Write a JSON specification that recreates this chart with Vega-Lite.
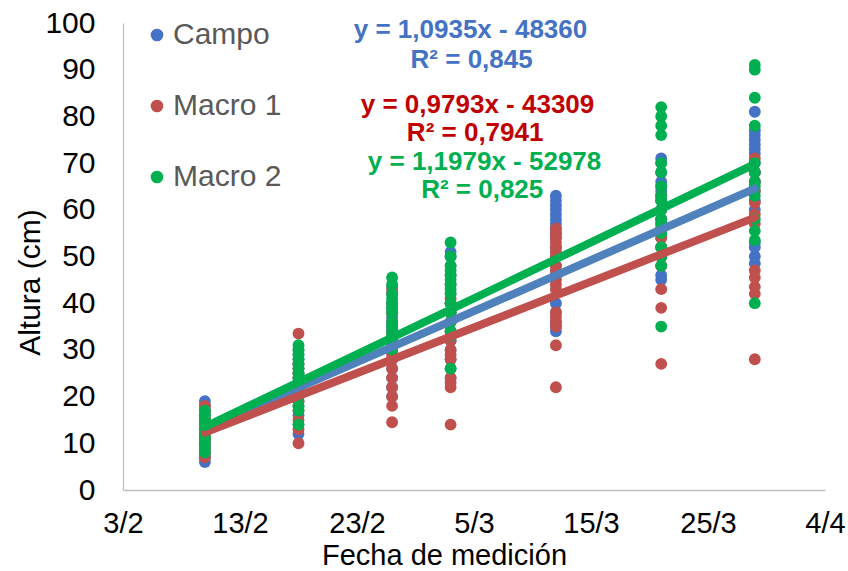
{
  "$schema": "https://vega.github.io/schema/vega-lite/v6.json",
  "autosize": {"type": "none"},
  "width": 702,
  "height": 467,
  "padding": {"left": 123, "top": 23, "right": 23, "bottom": 81},
  "background": "white",
  "config": {
    "view": {"stroke": null},
    "font": "Liberation Sans"
  },
  "datasets": {
    "mediciones": [
      {"fecha": 44237, "altura": 6, "serie": "Campo"}, {"fecha": 44237, "altura": 7, "serie": "Campo"}, {"fecha": 44237, "altura": 8, "serie": "Campo"}, {"fecha": 44237, "altura": 9, "serie": "Campo"}, {"fecha": 44237, "altura": 10, "serie": "Campo"}, {"fecha": 44237, "altura": 11, "serie": "Campo"}, {"fecha": 44237, "altura": 12, "serie": "Campo"}, {"fecha": 44237, "altura": 13, "serie": "Campo"}, {"fecha": 44237, "altura": 14, "serie": "Campo"}, {"fecha": 44237, "altura": 15, "serie": "Campo"}, {"fecha": 44237, "altura": 16, "serie": "Campo"}, {"fecha": 44237, "altura": 17, "serie": "Campo"}, {"fecha": 44237, "altura": 18, "serie": "Campo"}, {"fecha": 44237, "altura": 19, "serie": "Campo"},
      {"fecha": 44245, "altura": 12, "serie": "Campo"}, {"fecha": 44245, "altura": 14, "serie": "Campo"}, {"fecha": 44245, "altura": 16, "serie": "Campo"}, {"fecha": 44245, "altura": 18, "serie": "Campo"}, {"fecha": 44245, "altura": 19, "serie": "Campo"}, {"fecha": 44245, "altura": 20, "serie": "Campo"}, {"fecha": 44245, "altura": 21, "serie": "Campo"}, {"fecha": 44245, "altura": 22, "serie": "Campo"}, {"fecha": 44245, "altura": 23, "serie": "Campo"}, {"fecha": 44245, "altura": 24, "serie": "Campo"}, {"fecha": 44245, "altura": 25, "serie": "Campo"}, {"fecha": 44245, "altura": 26, "serie": "Campo"}, {"fecha": 44245, "altura": 27, "serie": "Campo"}, {"fecha": 44245, "altura": 28, "serie": "Campo"}, {"fecha": 44245, "altura": 29, "serie": "Campo"}, {"fecha": 44245, "altura": 30, "serie": "Campo"},
      {"fecha": 44253, "altura": 20, "serie": "Campo"}, {"fecha": 44253, "altura": 22, "serie": "Campo"}, {"fecha": 44253, "altura": 24, "serie": "Campo"}, {"fecha": 44253, "altura": 26, "serie": "Campo"}, {"fecha": 44253, "altura": 28, "serie": "Campo"}, {"fecha": 44253, "altura": 30, "serie": "Campo"}, {"fecha": 44253, "altura": 31, "serie": "Campo"}, {"fecha": 44253, "altura": 32, "serie": "Campo"}, {"fecha": 44253, "altura": 33, "serie": "Campo"}, {"fecha": 44253, "altura": 34, "serie": "Campo"}, {"fecha": 44253, "altura": 35, "serie": "Campo"}, {"fecha": 44253, "altura": 36, "serie": "Campo"}, {"fecha": 44253, "altura": 37, "serie": "Campo"}, {"fecha": 44253, "altura": 38, "serie": "Campo"}, {"fecha": 44253, "altura": 39, "serie": "Campo"}, {"fecha": 44253, "altura": 40, "serie": "Campo"}, {"fecha": 44253, "altura": 42, "serie": "Campo"}, {"fecha": 44253, "altura": 43.5, "serie": "Campo"},
      {"fecha": 44258, "altura": 24, "serie": "Campo"}, {"fecha": 44258, "altura": 26, "serie": "Campo"}, {"fecha": 44258, "altura": 28, "serie": "Campo"}, {"fecha": 44258, "altura": 30, "serie": "Campo"}, {"fecha": 44258, "altura": 32, "serie": "Campo"}, {"fecha": 44258, "altura": 34, "serie": "Campo"}, {"fecha": 44258, "altura": 36, "serie": "Campo"}, {"fecha": 44258, "altura": 38, "serie": "Campo"}, {"fecha": 44258, "altura": 40, "serie": "Campo"}, {"fecha": 44258, "altura": 42, "serie": "Campo"}, {"fecha": 44258, "altura": 44, "serie": "Campo"}, {"fecha": 44258, "altura": 46, "serie": "Campo"}, {"fecha": 44258, "altura": 48, "serie": "Campo"}, {"fecha": 44258, "altura": 50, "serie": "Campo"}, {"fecha": 44258, "altura": 51, "serie": "Campo"},
      {"fecha": 44267, "altura": 34, "serie": "Campo"}, {"fecha": 44267, "altura": 35, "serie": "Campo"}, {"fecha": 44267, "altura": 36, "serie": "Campo"}, {"fecha": 44267, "altura": 38, "serie": "Campo"}, {"fecha": 44267, "altura": 40, "serie": "Campo"}, {"fecha": 44267, "altura": 46, "serie": "Campo"}, {"fecha": 44267, "altura": 48, "serie": "Campo"}, {"fecha": 44267, "altura": 50, "serie": "Campo"}, {"fecha": 44267, "altura": 52, "serie": "Campo"}, {"fecha": 44267, "altura": 54, "serie": "Campo"}, {"fecha": 44267, "altura": 55, "serie": "Campo"}, {"fecha": 44267, "altura": 56, "serie": "Campo"}, {"fecha": 44267, "altura": 57, "serie": "Campo"}, {"fecha": 44267, "altura": 58, "serie": "Campo"}, {"fecha": 44267, "altura": 59, "serie": "Campo"}, {"fecha": 44267, "altura": 60, "serie": "Campo"}, {"fecha": 44267, "altura": 61, "serie": "Campo"}, {"fecha": 44267, "altura": 62, "serie": "Campo"}, {"fecha": 44267, "altura": 63, "serie": "Campo"},
      {"fecha": 44276, "altura": 45, "serie": "Campo"}, {"fecha": 44276, "altura": 46, "serie": "Campo"}, {"fecha": 44276, "altura": 48, "serie": "Campo"}, {"fecha": 44276, "altura": 50, "serie": "Campo"}, {"fecha": 44276, "altura": 52, "serie": "Campo"}, {"fecha": 44276, "altura": 54, "serie": "Campo"}, {"fecha": 44276, "altura": 56, "serie": "Campo"}, {"fecha": 44276, "altura": 58, "serie": "Campo"}, {"fecha": 44276, "altura": 60, "serie": "Campo"}, {"fecha": 44276, "altura": 62, "serie": "Campo"}, {"fecha": 44276, "altura": 63, "serie": "Campo"}, {"fecha": 44276, "altura": 64, "serie": "Campo"}, {"fecha": 44276, "altura": 65, "serie": "Campo"}, {"fecha": 44276, "altura": 66, "serie": "Campo"}, {"fecha": 44276, "altura": 68, "serie": "Campo"}, {"fecha": 44276, "altura": 70, "serie": "Campo"}, {"fecha": 44276, "altura": 71, "serie": "Campo"},
      {"fecha": 44284, "altura": 48.5, "serie": "Campo"}, {"fecha": 44284, "altura": 50, "serie": "Campo"}, {"fecha": 44284, "altura": 52, "serie": "Campo"}, {"fecha": 44284, "altura": 53, "serie": "Campo"}, {"fecha": 44284, "altura": 60, "serie": "Campo"}, {"fecha": 44284, "altura": 62, "serie": "Campo"}, {"fecha": 44284, "altura": 64, "serie": "Campo"}, {"fecha": 44284, "altura": 66, "serie": "Campo"}, {"fecha": 44284, "altura": 68, "serie": "Campo"}, {"fecha": 44284, "altura": 70, "serie": "Campo"}, {"fecha": 44284, "altura": 72, "serie": "Campo"}, {"fecha": 44284, "altura": 73, "serie": "Campo"}, {"fecha": 44284, "altura": 74, "serie": "Campo"}, {"fecha": 44284, "altura": 75, "serie": "Campo"}, {"fecha": 44284, "altura": 76, "serie": "Campo"}, {"fecha": 44284, "altura": 77, "serie": "Campo"}, {"fecha": 44284, "altura": 81, "serie": "Campo"},

      {"fecha": 44237, "altura": 7, "serie": "Macro 1"}, {"fecha": 44237, "altura": 8, "serie": "Macro 1"}, {"fecha": 44237, "altura": 9, "serie": "Macro 1"}, {"fecha": 44237, "altura": 10, "serie": "Macro 1"}, {"fecha": 44237, "altura": 11, "serie": "Macro 1"}, {"fecha": 44237, "altura": 12, "serie": "Macro 1"}, {"fecha": 44237, "altura": 13, "serie": "Macro 1"}, {"fecha": 44237, "altura": 14, "serie": "Macro 1"}, {"fecha": 44237, "altura": 15, "serie": "Macro 1"}, {"fecha": 44237, "altura": 16, "serie": "Macro 1"}, {"fecha": 44237, "altura": 17, "serie": "Macro 1"}, {"fecha": 44237, "altura": 18, "serie": "Macro 1"},
      {"fecha": 44245, "altura": 10, "serie": "Macro 1"}, {"fecha": 44245, "altura": 13, "serie": "Macro 1"}, {"fecha": 44245, "altura": 15, "serie": "Macro 1"}, {"fecha": 44245, "altura": 17, "serie": "Macro 1"}, {"fecha": 44245, "altura": 19, "serie": "Macro 1"}, {"fecha": 44245, "altura": 20, "serie": "Macro 1"}, {"fecha": 44245, "altura": 21, "serie": "Macro 1"}, {"fecha": 44245, "altura": 22, "serie": "Macro 1"}, {"fecha": 44245, "altura": 23, "serie": "Macro 1"}, {"fecha": 44245, "altura": 24, "serie": "Macro 1"}, {"fecha": 44245, "altura": 25, "serie": "Macro 1"}, {"fecha": 44245, "altura": 26, "serie": "Macro 1"}, {"fecha": 44245, "altura": 27, "serie": "Macro 1"}, {"fecha": 44245, "altura": 33.5, "serie": "Macro 1"},
      {"fecha": 44253, "altura": 14.5, "serie": "Macro 1"}, {"fecha": 44253, "altura": 18, "serie": "Macro 1"}, {"fecha": 44253, "altura": 20, "serie": "Macro 1"}, {"fecha": 44253, "altura": 22, "serie": "Macro 1"}, {"fecha": 44253, "altura": 24, "serie": "Macro 1"}, {"fecha": 44253, "altura": 26, "serie": "Macro 1"}, {"fecha": 44253, "altura": 28, "serie": "Macro 1"}, {"fecha": 44253, "altura": 29, "serie": "Macro 1"}, {"fecha": 44253, "altura": 30, "serie": "Macro 1"}, {"fecha": 44253, "altura": 32, "serie": "Macro 1"}, {"fecha": 44253, "altura": 33, "serie": "Macro 1"}, {"fecha": 44253, "altura": 34, "serie": "Macro 1"}, {"fecha": 44253, "altura": 36, "serie": "Macro 1"}, {"fecha": 44253, "altura": 38, "serie": "Macro 1"}, {"fecha": 44253, "altura": 40, "serie": "Macro 1"}, {"fecha": 44253, "altura": 42, "serie": "Macro 1"}, {"fecha": 44253, "altura": 43, "serie": "Macro 1"},
      {"fecha": 44258, "altura": 14, "serie": "Macro 1"}, {"fecha": 44258, "altura": 22, "serie": "Macro 1"}, {"fecha": 44258, "altura": 23, "serie": "Macro 1"}, {"fecha": 44258, "altura": 24, "serie": "Macro 1"}, {"fecha": 44258, "altura": 28, "serie": "Macro 1"}, {"fecha": 44258, "altura": 29, "serie": "Macro 1"}, {"fecha": 44258, "altura": 30, "serie": "Macro 1"}, {"fecha": 44258, "altura": 32, "serie": "Macro 1"}, {"fecha": 44258, "altura": 34, "serie": "Macro 1"}, {"fecha": 44258, "altura": 36, "serie": "Macro 1"}, {"fecha": 44258, "altura": 38, "serie": "Macro 1"}, {"fecha": 44258, "altura": 40, "serie": "Macro 1"}, {"fecha": 44258, "altura": 41, "serie": "Macro 1"},
      {"fecha": 44267, "altura": 22, "serie": "Macro 1"}, {"fecha": 44267, "altura": 31, "serie": "Macro 1"}, {"fecha": 44267, "altura": 35, "serie": "Macro 1"}, {"fecha": 44267, "altura": 36, "serie": "Macro 1"}, {"fecha": 44267, "altura": 37, "serie": "Macro 1"}, {"fecha": 44267, "altura": 38, "serie": "Macro 1"}, {"fecha": 44267, "altura": 43, "serie": "Macro 1"}, {"fecha": 44267, "altura": 44, "serie": "Macro 1"}, {"fecha": 44267, "altura": 45, "serie": "Macro 1"}, {"fecha": 44267, "altura": 46, "serie": "Macro 1"}, {"fecha": 44267, "altura": 47, "serie": "Macro 1"}, {"fecha": 44267, "altura": 48, "serie": "Macro 1"}, {"fecha": 44267, "altura": 50, "serie": "Macro 1"}, {"fecha": 44267, "altura": 51, "serie": "Macro 1"}, {"fecha": 44267, "altura": 52, "serie": "Macro 1"}, {"fecha": 44267, "altura": 53, "serie": "Macro 1"}, {"fecha": 44267, "altura": 54, "serie": "Macro 1"}, {"fecha": 44267, "altura": 55, "serie": "Macro 1"}, {"fecha": 44267, "altura": 56, "serie": "Macro 1"},
      {"fecha": 44276, "altura": 27, "serie": "Macro 1"}, {"fecha": 44276, "altura": 39, "serie": "Macro 1"}, {"fecha": 44276, "altura": 43, "serie": "Macro 1"}, {"fecha": 44276, "altura": 48, "serie": "Macro 1"}, {"fecha": 44276, "altura": 50, "serie": "Macro 1"}, {"fecha": 44276, "altura": 52, "serie": "Macro 1"}, {"fecha": 44276, "altura": 54, "serie": "Macro 1"}, {"fecha": 44276, "altura": 55, "serie": "Macro 1"}, {"fecha": 44276, "altura": 56, "serie": "Macro 1"}, {"fecha": 44276, "altura": 57, "serie": "Macro 1"}, {"fecha": 44276, "altura": 58, "serie": "Macro 1"}, {"fecha": 44276, "altura": 60, "serie": "Macro 1"}, {"fecha": 44276, "altura": 62, "serie": "Macro 1"}, {"fecha": 44276, "altura": 63, "serie": "Macro 1"},
      {"fecha": 44284, "altura": 28, "serie": "Macro 1"}, {"fecha": 44284, "altura": 42, "serie": "Macro 1"}, {"fecha": 44284, "altura": 43.5, "serie": "Macro 1"}, {"fecha": 44284, "altura": 45.5, "serie": "Macro 1"}, {"fecha": 44284, "altura": 47, "serie": "Macro 1"}, {"fecha": 44284, "altura": 57, "serie": "Macro 1"}, {"fecha": 44284, "altura": 59, "serie": "Macro 1"}, {"fecha": 44284, "altura": 61.5, "serie": "Macro 1"}, {"fecha": 44284, "altura": 64, "serie": "Macro 1"}, {"fecha": 44284, "altura": 66, "serie": "Macro 1"}, {"fecha": 44284, "altura": 68, "serie": "Macro 1"}, {"fecha": 44284, "altura": 71, "serie": "Macro 1"},

      {"fecha": 44237, "altura": 8, "serie": "Macro 2"}, {"fecha": 44237, "altura": 9, "serie": "Macro 2"}, {"fecha": 44237, "altura": 10, "serie": "Macro 2"}, {"fecha": 44237, "altura": 11, "serie": "Macro 2"}, {"fecha": 44237, "altura": 12, "serie": "Macro 2"}, {"fecha": 44237, "altura": 13, "serie": "Macro 2"}, {"fecha": 44237, "altura": 14, "serie": "Macro 2"}, {"fecha": 44237, "altura": 15, "serie": "Macro 2"}, {"fecha": 44237, "altura": 16, "serie": "Macro 2"}, {"fecha": 44237, "altura": 17, "serie": "Macro 2"},
      {"fecha": 44245, "altura": 14, "serie": "Macro 2"}, {"fecha": 44245, "altura": 17, "serie": "Macro 2"}, {"fecha": 44245, "altura": 18, "serie": "Macro 2"}, {"fecha": 44245, "altura": 20, "serie": "Macro 2"}, {"fecha": 44245, "altura": 22, "serie": "Macro 2"}, {"fecha": 44245, "altura": 23, "serie": "Macro 2"}, {"fecha": 44245, "altura": 24, "serie": "Macro 2"}, {"fecha": 44245, "altura": 25, "serie": "Macro 2"}, {"fecha": 44245, "altura": 26, "serie": "Macro 2"}, {"fecha": 44245, "altura": 27, "serie": "Macro 2"}, {"fecha": 44245, "altura": 28, "serie": "Macro 2"}, {"fecha": 44245, "altura": 29, "serie": "Macro 2"}, {"fecha": 44245, "altura": 30, "serie": "Macro 2"}, {"fecha": 44245, "altura": 31, "serie": "Macro 2"},
      {"fecha": 44253, "altura": 30, "serie": "Macro 2"}, {"fecha": 44253, "altura": 31, "serie": "Macro 2"}, {"fecha": 44253, "altura": 32, "serie": "Macro 2"}, {"fecha": 44253, "altura": 33, "serie": "Macro 2"}, {"fecha": 44253, "altura": 34, "serie": "Macro 2"}, {"fecha": 44253, "altura": 35, "serie": "Macro 2"}, {"fecha": 44253, "altura": 36, "serie": "Macro 2"}, {"fecha": 44253, "altura": 38, "serie": "Macro 2"}, {"fecha": 44253, "altura": 39, "serie": "Macro 2"}, {"fecha": 44253, "altura": 40, "serie": "Macro 2"}, {"fecha": 44253, "altura": 41, "serie": "Macro 2"}, {"fecha": 44253, "altura": 42, "serie": "Macro 2"}, {"fecha": 44253, "altura": 44, "serie": "Macro 2"}, {"fecha": 44253, "altura": 45.5, "serie": "Macro 2"},
      {"fecha": 44258, "altura": 26, "serie": "Macro 2"}, {"fecha": 44258, "altura": 33, "serie": "Macro 2"}, {"fecha": 44258, "altura": 34, "serie": "Macro 2"}, {"fecha": 44258, "altura": 36, "serie": "Macro 2"}, {"fecha": 44258, "altura": 38, "serie": "Macro 2"}, {"fecha": 44258, "altura": 40, "serie": "Macro 2"}, {"fecha": 44258, "altura": 42, "serie": "Macro 2"}, {"fecha": 44258, "altura": 43, "serie": "Macro 2"}, {"fecha": 44258, "altura": 44, "serie": "Macro 2"}, {"fecha": 44258, "altura": 45, "serie": "Macro 2"}, {"fecha": 44258, "altura": 46, "serie": "Macro 2"}, {"fecha": 44258, "altura": 47, "serie": "Macro 2"}, {"fecha": 44258, "altura": 48, "serie": "Macro 2"}, {"fecha": 44258, "altura": 50, "serie": "Macro 2"}, {"fecha": 44258, "altura": 53, "serie": "Macro 2"},
      {"fecha": 44276, "altura": 35, "serie": "Macro 2"}, {"fecha": 44276, "altura": 48, "serie": "Macro 2"}, {"fecha": 44276, "altura": 50, "serie": "Macro 2"}, {"fecha": 44276, "altura": 52, "serie": "Macro 2"}, {"fecha": 44276, "altura": 55, "serie": "Macro 2"}, {"fecha": 44276, "altura": 57, "serie": "Macro 2"}, {"fecha": 44276, "altura": 58, "serie": "Macro 2"}, {"fecha": 44276, "altura": 60, "serie": "Macro 2"}, {"fecha": 44276, "altura": 62, "serie": "Macro 2"}, {"fecha": 44276, "altura": 63, "serie": "Macro 2"}, {"fecha": 44276, "altura": 65, "serie": "Macro 2"}, {"fecha": 44276, "altura": 68, "serie": "Macro 2"}, {"fecha": 44276, "altura": 70, "serie": "Macro 2"}, {"fecha": 44276, "altura": 76, "serie": "Macro 2"}, {"fecha": 44276, "altura": 78, "serie": "Macro 2"}, {"fecha": 44276, "altura": 80, "serie": "Macro 2"}, {"fecha": 44276, "altura": 82, "serie": "Macro 2"},
      {"fecha": 44284, "altura": 40, "serie": "Macro 2"}, {"fecha": 44284, "altura": 53.5, "serie": "Macro 2"}, {"fecha": 44284, "altura": 55.5, "serie": "Macro 2"}, {"fecha": 44284, "altura": 58, "serie": "Macro 2"}, {"fecha": 44284, "altura": 63, "serie": "Macro 2"}, {"fecha": 44284, "altura": 65, "serie": "Macro 2"}, {"fecha": 44284, "altura": 66, "serie": "Macro 2"}, {"fecha": 44284, "altura": 68, "serie": "Macro 2"}, {"fecha": 44284, "altura": 70, "serie": "Macro 2"}, {"fecha": 44284, "altura": 78, "serie": "Macro 2"}, {"fecha": 44284, "altura": 84, "serie": "Macro 2"}, {"fecha": 44284, "altura": 90, "serie": "Macro 2"}, {"fecha": 44284, "altura": 91, "serie": "Macro 2"}
    ],
    "tendencia": [
      {"fecha": 44237, "altura": 13.16, "serie": "Campo"},
      {"fecha": 44284, "altura": 64.55, "serie": "Campo"},
      {"fecha": 44237, "altura": 12.29, "serie": "Macro 1"},
      {"fecha": 44284, "altura": 58.32, "serie": "Macro 1"},
      {"fecha": 44237, "altura": 13.50, "serie": "Macro 2"},
      {"fecha": 44284, "altura": 69.80, "serie": "Macro 2"}
    ],
    "ecuaciones": [
      {"fecha": 44259.7, "altura": 98.5, "serie": "Campo", "texto": "y = 1,0935x - 48360"},
      {"fecha": 44259.8, "altura": 92.1, "serie": "Campo", "texto": "R² = 0,845"},
      {"fecha": 44260.3, "altura": 82.4, "serie": "Macro 1", "texto": "y = 0,9793x - 43309"},
      {"fecha": 44260.1, "altura": 76.4, "serie": "Macro 1", "texto": "R² = 0,7941"},
      {"fecha": 44260.9, "altura": 70.2, "serie": "Macro 2", "texto": "y = 1,1979x - 52978"},
      {"fecha": 44260.7, "altura": 64.2, "serie": "Macro 2", "texto": "R² = 0,825"}
    ]
  },
  "encoding": {
    "x": {
      "field": "fecha",
      "type": "quantitative",
      "scale": {"domain": [44230, 44290], "nice": false, "zero": false},
      "axis": {
        "title": "Fecha de medición",
        "values": [44230, 44240, 44250, 44260, 44270, 44280, 44290],
        "labelExpr": "utcFormat((datum.value - 25569) * 86400000, '%-d/%-m')",
        "grid": false,
        "ticks": false,
        "domainColor": "#BFBFBF",
        "domainWidth": 1.3,
        "labelFont": "Liberation Sans",
        "labelFontSize": 29,
        "labelColor": "#000000",
        "labelPadding": 19,
        "labelFlush": false,
        "labelOverlap": false,
        "titleFont": "Liberation Sans",
        "titleFontSize": 29,
        "titleFontWeight": "normal",
        "titleColor": "#000000",
        "titleX": 321,
        "titleY": 65,
        "titleBaseline": "middle",
        "titleAlign": "center"
      }
    },
    "y": {
      "field": "altura",
      "type": "quantitative",
      "scale": {"domain": [0, 100], "nice": false},
      "axis": {
        "title": "Altura (cm)",
        "values": [0, 10, 20, 30, 40, 50, 60, 70, 80, 90, 100],
        "grid": false,
        "ticks": false,
        "domainColor": "#BFBFBF",
        "domainWidth": 1.3,
        "labelFont": "Liberation Sans",
        "labelFontSize": 30,
        "labelColor": "#000000",
        "labelPadding": 28,
        "titleFont": "Liberation Sans",
        "titleFontSize": 30,
        "titleFontWeight": "normal",
        "titleColor": "#000000",
        "titleX": -93,
        "titleY": 259,
        "titleBaseline": "middle",
        "titleAlign": "center",
        "titleAngle": -90
      }
    }
  },
  "layer": [
    {
      "data": {"name": "mediciones"},
      "mark": {"type": "point", "shape": "circle", "filled": true, "opacity": 1, "size": 140},
      "encoding": {
        "color": {
          "field": "serie",
          "type": "nominal",
          "scale": {"domain": ["Campo", "Macro 1", "Macro 2"], "range": ["#4472C4", "#C0504D", "#00B050"]},
          "legend": {
            "title": null,
            "orient": "none",
            "legendX": 19,
            "legendY": -3,
            "direction": "vertical",
            "symbolType": "circle",
            "symbolSize": 160,
            "symbolOpacity": 1,
            "symbolStrokeWidth": 0,
            "labelFont": "Liberation Sans",
            "labelFontSize": 30,
            "labelColor": "#595959",
            "labelOffset": 1,
            "rowPadding": 41,
            "padding": 0
          }
        }
      }
    },
    {
      "data": {"name": "tendencia"},
      "mark": {"type": "line", "strokeWidth": 8, "strokeCap": "round"},
      "encoding": {
        "detail": {"field": "serie", "type": "nominal"},
        "color": {
          "field": "serie",
          "type": "nominal",
          "scale": {"domain": ["Campo", "Macro 1", "Macro 2"], "range": ["#4F81BD", "#C0504D", "#00B050"]},
          "legend": null
        }
      }
    },
    {
      "data": {"name": "ecuaciones"},
      "mark": {"type": "text", "font": "Liberation Sans", "fontSize": 26, "fontWeight": "bold", "align": "center", "baseline": "middle"},
      "encoding": {
        "text": {"field": "texto"},
        "color": {
          "field": "serie",
          "type": "nominal",
          "scale": {"domain": ["Campo", "Macro 1", "Macro 2"], "range": ["#4472C4", "#C00000", "#00B050"]},
          "legend": null
        }
      }
    }
  ],
  "resolve": {"scale": {"color": "independent"}}
}
